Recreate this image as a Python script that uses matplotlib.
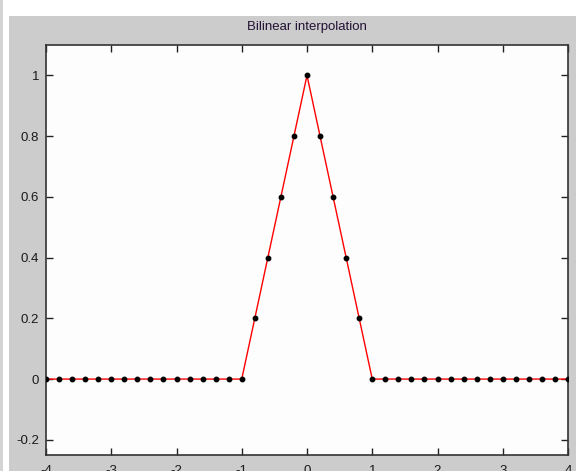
import numpy as np
import matplotlib
matplotlib.use("Agg")
import matplotlib.pyplot as plt
from matplotlib.patches import Rectangle

# Data: sample points of the bilinear (triangle) kernel
x_pts = [-4.0, -3.8, -3.6, -3.4, -3.2, -3.0, -2.8, -2.6, -2.4, -2.2, -2.0, -1.8, -1.6, -1.4, -1.2, -1.0,
         -0.8, -0.6, -0.4, -0.2, 0.0, 0.2, 0.4, 0.6, 0.8,
         1.0, 1.2, 1.4, 1.6, 1.8, 2.0, 2.2, 2.4, 2.6, 2.8, 3.0, 3.2, 3.4, 3.6, 3.8, 4.0]
y_pts = [0, 0, 0, 0, 0, 0, 0, 0, 0, 0, 0, 0, 0, 0, 0, 0,
         0.2, 0.4, 0.6, 0.8, 1.0, 0.8, 0.6, 0.4, 0.2,
         0, 0, 0, 0, 0, 0, 0, 0, 0, 0, 0, 0, 0, 0, 0, 0]
title = "Bilinear interpolation"
xticks = [-4, -3, -2, -1, 0, 1, 2, 3, 4]
yticks = [-0.2, 0, 0.2, 0.4, 0.6, 0.8, 1]
ytick_labels = ["-0.2", "0", "0.2", "0.4", "0.6", "0.8", "1"]

W, H = 576, 471
fig = plt.figure(figsize=(W / 100, H / 100), dpi=100, facecolor="white")
plt.rcParams["font.family"] = ["Liberation Sans", "DejaVu Sans"]

# window frame pieces
fig.patches.append(Rectangle((0, 0), 3 / W, 1, transform=fig.transFigure,
                             facecolor="#d4d4d4", edgecolor="none", zorder=-10))
fig.patches.append(Rectangle((9 / W, 0), 1, (H - 16) / H, transform=fig.transFigure,
                             facecolor="#cccccc", edgecolor="none", zorder=-10))

left, right, top, bottom = 46, 568, 45, 455
ax = fig.add_axes([left / W, (H - bottom) / H, (right - left) / W, (bottom - top) / H])
ax.set_facecolor("#fdfdfd")

ax.plot(x_pts, y_pts, color="red", linewidth=1.0, zorder=2)
ax.plot(x_pts, y_pts, linestyle="none", marker="o", markersize=3.2, color="black", zorder=3)

ax.set_xlim(-4, 4)
ax.set_ylim(-0.25, 1.1)
ax.set_xticks(xticks)
ax.set_xticklabels([str(t) for t in xticks])
ax.set_yticks(yticks)
ax.set_yticklabels(ytick_labels)
ax.tick_params(direction="in", length=5, width=1, colors="#222222", labelsize=9.5,
               top=True, right=True, labelcolor="#1a1a1a", pad=7)
ax.tick_params(axis="y", pad=5)
for s in ax.spines.values():
    s.set_color("#333333")
    s.set_linewidth(1.2)

fig.text((left + right) / 2 / W, 1 - 27 / H, title, ha="center", va="center",
         fontsize=9.5, color="#221133")

fig.savefig("out.png", dpi=100, facecolor=fig.get_facecolor())
